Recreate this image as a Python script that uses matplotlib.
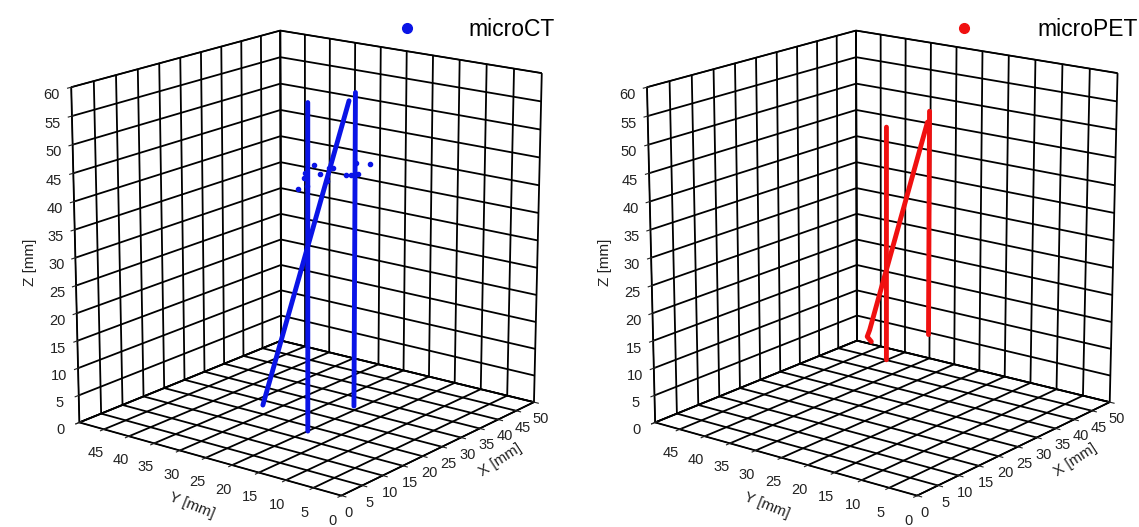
import matplotlib
matplotlib.use("Agg")
import matplotlib.pyplot as plt
from matplotlib.lines import Line2D
import numpy as np

plt.rcParams['font.family'] = ['Liberation Sans', 'DejaVu Sans']
plt.rcParams['grid.color'] = 'black'
plt.rcParams['grid.linewidth'] = 1.3

# ---- data (mm) ----
# microCT : two vertical wires + one diagonal wire, plus a few stray points
ct_wire1_x = [18.2, 18.2]
ct_wire1_y = [20.0, 20.0]
ct_wire1_z = [0.0, 58.4]
ct_wire2_x = [29.9, 29.9]
ct_wire2_y = [20.0, 20.0]
ct_wire2_z = [0.8, 57.6]
ct_diag_x = [7.3, 28.3]
ct_diag_y = [20.0, 20.0]
ct_diag_z = [8.3, 56.5]
ct_stray_x = [15.9, 17.2, 17.6, 18.1, 19.6, 21.1, 23.3, 24.3, 22.8, 27.6, 28.9, 30.2, 33.6, 30.6]
ct_stray_y = [20.0] * 14
ct_stray_z = [44.0, 45.5, 46.3, 44.0, 47.2, 45.4, 45.8, 45.6, 43.6, 43.5, 43.3, 45.0, 44.1, 43.1]

# microPET
pet_wire1_x = [18.9, 18.9]
pet_wire1_y = [20.0, 20.0]
pet_wire1_z = [12.8, 54.0]
pet_wire2_x = [29.5, 29.5]
pet_wire2_y = [20.0, 20.0]
pet_wire2_z = [14.2, 54.4]
pet_diag_x = [15.2, 14.2, 14.8, 29.0]
pet_diag_y = [20.0, 20.0, 20.0, 20.0]
pet_diag_z = [17.2, 18.4, 19.4, 52.6]

xticks = list(range(0, 55, 5))
yticks = list(range(0, 55, 5))
zticks = list(range(0, 65, 5))
ytick_labels = [str(v) for v in yticks[:-1]] + ['']


def setup(ax):
    ax.set_proj_type('persp', focal_length=1.0)
    ax.view_init(elev=16.5, azim=-142.5)
    ax.set_xlim(0, 50)
    ax.set_ylim(0, 50)
    ax.set_zlim(0, 60)
    ax.set_box_aspect((1, 1, 1.05), zoom=1.07)
    ax.set_xticks(xticks)
    ax.set_yticks(yticks)
    ax.set_yticklabels(ytick_labels)
    ax.set_zticks(zticks)
    for axis in (ax.xaxis, ax.yaxis, ax.zaxis):
        axis.set_pane_color((1, 1, 1, 1))
        axis.pane.set_edgecolor('black')
        axis.line.set_color('black')
        axis._axinfo['grid']['color'] = 'black'
        axis._axinfo['grid']['linewidth'] = 1.3
    ax.tick_params(labelsize=10.5, colors='#222222', pad=0)
    ax.tick_params(axis='x', pad=-3)


fig = plt.figure(figsize=(11.39, 5.27), dpi=100)

ax1 = fig.add_axes([0.015, 0.014, 0.5, 1.0], projection='3d')
setup(ax1)
col1 = '#0a14e6'
for xs, ys, zs in [(ct_wire1_x, ct_wire1_y, ct_wire1_z),
                   (ct_wire2_x, ct_wire2_y, ct_wire2_z),
                   (ct_diag_x, ct_diag_y, ct_diag_z)]:
    ax1.plot(xs, ys, zs, color=col1, lw=3.5, solid_capstyle='round')
ax1.scatter(ct_stray_x, ct_stray_y, ct_stray_z, color=col1, s=9, depthshade=False)
ax1.legend(handles=[Line2D([], [], marker='o', ls='', color=col1, markersize=7, label='microCT')],
           loc='upper right', bbox_to_anchor=(0.487, 0.965), bbox_transform=fig.transFigure,
           frameon=False, borderpad=0, borderaxespad=0,
           fontsize=16.5, handletextpad=1.7)

ax2 = fig.add_axes([0.5205, 0.014, 0.5, 1.0], projection='3d')
setup(ax2)
col2 = '#f01010'
for xs, ys, zs in [(pet_wire1_x, pet_wire1_y, pet_wire1_z),
                   (pet_wire2_x, pet_wire2_y, pet_wire2_z),
                   (pet_diag_x, pet_diag_y, pet_diag_z)]:
    ax2.plot(xs, ys, zs, color=col2, lw=3.5, solid_capstyle='round')
ax2.legend(handles=[Line2D([], [], marker='o', ls='', color=col2, markersize=7, label='microPET')],
           loc='upper right', bbox_to_anchor=(0.999, 0.965), bbox_transform=fig.transFigure,
           frameon=False, borderpad=0, borderaxespad=0,
           fontsize=16.5, handletextpad=2.2)

# axis titles placed as plain figure text (pixel positions from the picture)
W, H = 1139.0, 527.0
for dx in (0.0, 575.0):
    fig.text((30 + dx) / W, 1 - 262 / H, 'Z [mm]', rotation=90, fontsize=11,
             ha='center', va='center', color='#222222')
    fig.text((192 + dx) / W, 1 - 505 / H, 'Y [mm]', rotation=-22, fontsize=11,
             ha='center', va='center', color='#222222')
    fig.text((500 + dx) / W, 1 - 460 / H, 'X [mm]', rotation=33, fontsize=11,
             ha='center', va='center', color='#222222')

fig.savefig('out.png', dpi=100)
